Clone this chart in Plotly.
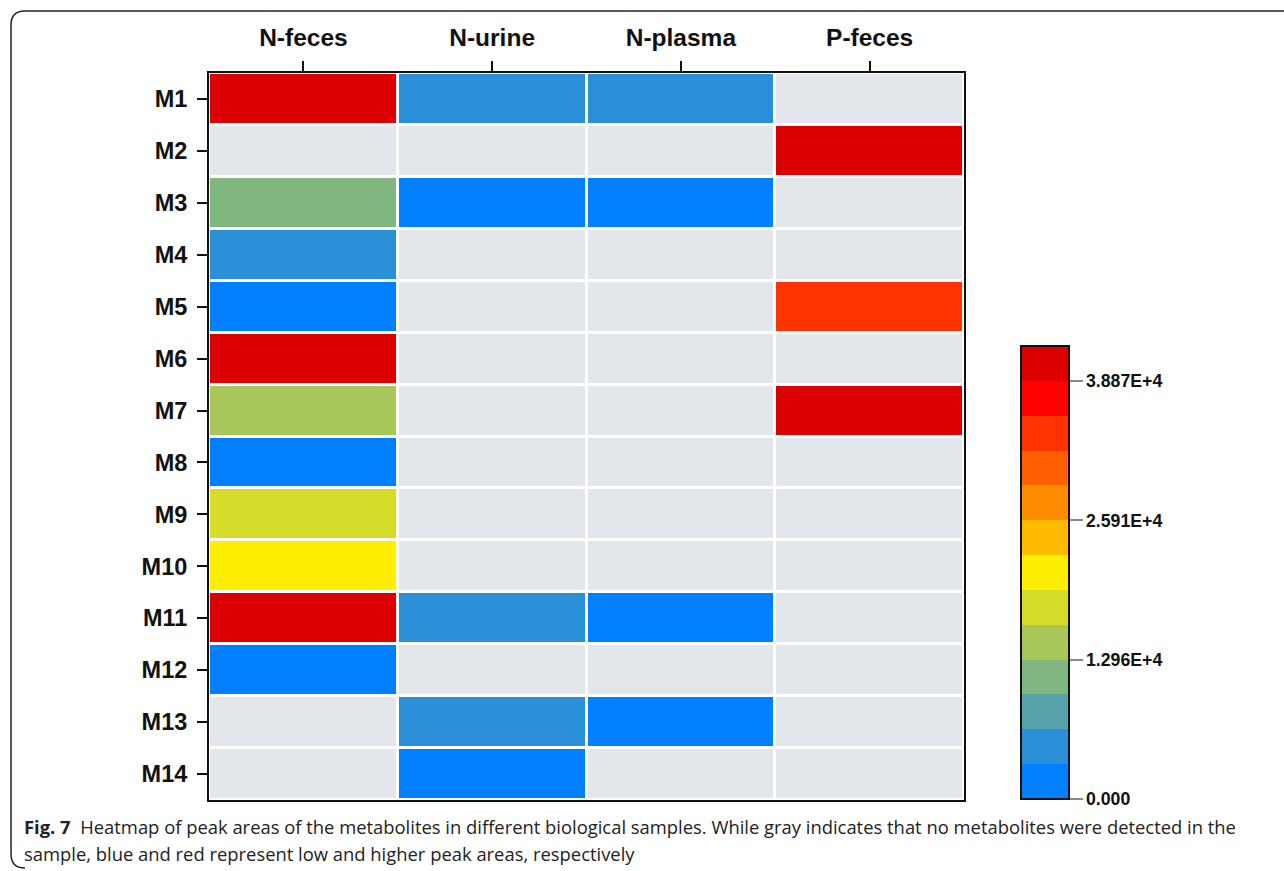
import plotly.graph_objects as go

# Samples (columns) and metabolites (rows)
samples = ["N-feces", "N-urine", "N-plasma", "P-feces"]
metabolites = [f"M{i}" for i in range(1, 15)]

# Peak areas per sample; None = not detected
n_feces = [41000, None, 11500, 5000, 1500, 41000, 14500, 1500, 18000, 21500, 41000, 1500, None, None]
n_urine = [5000, None, 1500, None, None, None, None, None, None, None, 5000, None, 5000, 1500]
n_plasma = [5000, None, 1500, None, None, None, None, None, None, None, 1500, None, 1500, None]
p_feces = [None, 41000, None, None, 34000, None, 41000, None, None, None, None, None, None, None]

# Colour bar scale
z_max = 42120
tick_vals = [0, 12960, 25910, 38870]
tick_text = ["0.000", "1.296E+4", "2.591E+4", "3.887E+4"]

band_colors = [
    "#0080FF", "#2A8FD6", "#55A3A8", "#80B680", "#A8C65A", "#D5DC2A",
    "#FFEE00", "#FFBB00", "#FF8C00", "#FF6000", "#FF3300", "#FF0000", "#DD0000",
]
n_bands = len(band_colors)
colorscale = []
for i, c in enumerate(band_colors):
    colorscale.append([i / n_bands, c])
    colorscale.append([(i + 1) / n_bands, c])

not_detected = "#E3E6EA"

columns = [n_feces, n_urine, n_plasma, p_feces]
z = [[col[r] for col in columns] for r in range(len(metabolites))]
z_bg = [[1 for _ in samples] for _ in metabolites]

W, H = 1284, 871
L, R, T, B = 209, 964, 73, 800


def px(xp):
    return (xp - L) / (R - L)


def py(yp):
    return (B - yp) / (B - T)


fig = go.Figure()

fig.add_trace(go.Heatmap(
    x=samples, y=metabolites, z=z_bg,
    colorscale=[[0, not_detected], [1, not_detected]],
    showscale=False, xgap=3, ygap=3, hoverinfo="skip",
))

fig.add_trace(go.Heatmap(
    x=samples, y=metabolites, z=z,
    zmin=0, zmax=z_max, colorscale=colorscale,
    xgap=3, ygap=3,
    colorbar=dict(
        thickness=48, thicknessmode="pixels",
        len=(799 - 346) / (B - T), lenmode="fraction",
        x=px(1021), xanchor="left", xpad=0,
        y=py(799), yanchor="bottom", ypad=0,
        outlinewidth=2, outlinecolor="#111111",
        tickvals=tick_vals, ticktext=tick_text,
        ticks="outside", ticklen=13, tickwidth=2, tickcolor="#888888",
        tickfont=dict(family="Liberation Sans, Arial", size=17.7, color="#111111", weight="bold"),
    ),
))

# Figure frame with rounded corners
r = 14
x0, y0, x1, y1 = 11, 11, 1300, 868
frame = (
    f"M {px(x1)},{py(y0)} L {px(x0 + r)},{py(y0)} "
    f"Q {px(x0)},{py(y0)} {px(x0)},{py(y0 + r)} "
    f"L {px(x0)},{py(y1 - r)} "
    f"Q {px(x0)},{py(y1)} {px(x0 + r)},{py(y1)}"
)

fig.update_layout(
    width=W, height=H,
    margin=dict(l=L, r=W - R, t=T, b=H - B),
    paper_bgcolor="white", plot_bgcolor="white",
    xaxis=dict(
        side="top", showgrid=False, zeroline=False,
        ticks="outside", ticklen=10, tickwidth=2, tickcolor="#111111",
        showline=True, linecolor="#111111", linewidth=2, mirror=True,
        tickfont=dict(family="Liberation Sans, Arial", size=24.5, color="#111111", weight="bold"),
        ticklabelstandoff=5,
    ),
    yaxis=dict(
        autorange="reversed", showgrid=False, zeroline=False,
        ticks="outside", ticklen=10, tickwidth=2, tickcolor="#111111",
        showline=True, linecolor="#111111", linewidth=2, mirror=True,
        tickfont=dict(family="Liberation Sans, Arial", size=23.5, color="#111111", weight="bold"),
        ticklabelstandoff=5,
    ),
    shapes=[dict(type="path", xref="paper", yref="paper", path=frame,
                 line=dict(color="#222222", width=1.5))],
    annotations=[
        dict(xref="paper", yref="paper", x=px(22), y=py(826), xanchor="left", yanchor="middle",
             showarrow=False, align="left",
             text="<b>Fig. 7</b>  Heatmap of peak areas of the metabolites in different biological samples. "
                  "While gray indicates that no metabolites were detected in the",
             font=dict(family="Open Sans", size=18.4, color="#222222")),
        dict(xref="paper", yref="paper", x=px(22), y=py(853), xanchor="left", yanchor="middle",
             showarrow=False, align="left",
             text="sample, blue and red represent low and higher peak areas, respectively",
             font=dict(family="Open Sans", size=18.4, color="#222222")),
    ],
)

fig.write_html("out.html")
